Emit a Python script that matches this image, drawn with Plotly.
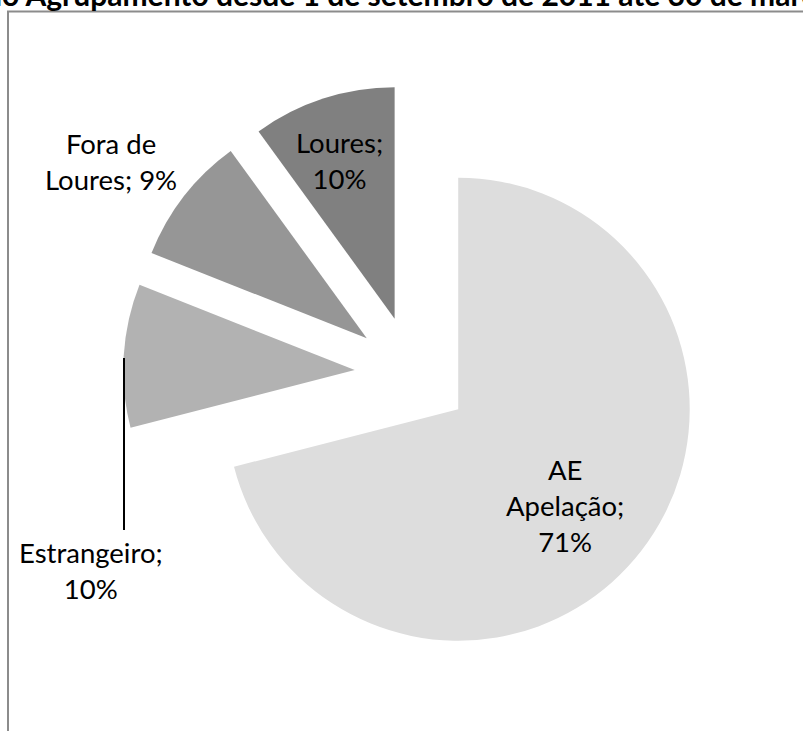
import plotly.graph_objects as go

W, H = 803, 731

categories = ["AE Apelação", "Estrangeiro", "Fora de Loures", "Loures"]
values = [71, 10, 9, 10]
label_lines = [["AE", "Apelação;"], ["Estrangeiro;"], ["Fora de", "Loures;"], ["Loures;"]]
colors = ["#dddddd", "#b2b2b2", "#969696", "#808080"]
title_text = "no Agrupamento desde 1 de setembro de 2011 até 30 de março"

FONT = "Lato, Calibri, Carlito, sans-serif"

fig = go.Figure()
fig.add_trace(go.Pie(
    labels=categories,
    values=values,
    sort=False,
    direction="clockwise",
    rotation=0,
    pull=[0.25] * len(values),
    marker=dict(colors=colors, line=dict(width=0)),
    textinfo="none",
    hoverinfo="label+percent",
    showlegend=False,
    domain=dict(x=[0.1533, 0.8741], y=[0.0929, 0.8846]),
))


def px(x):
    return x / W


def py(y):
    return 1 - y / H


total = sum(values)
texts = []
for lines, v in zip(label_lines, values):
    pct = f"{round(100 * v / total)}%"
    if len(lines) == 2 and lines[0] == "Fora de":
        t = lines[0] + "<br>" + lines[1] + " " + pct
    else:
        t = "<br>".join(lines + [pct])
    texts.append(t)

label_pos = [(565, 505), (91, 570), (111, 161), (339, 160)]

annotations = []
for t, (x, y) in zip(texts, label_pos):
    annotations.append(dict(
        x=px(x), y=py(y), xref="paper", yref="paper",
        text=t, showarrow=False, xanchor="center", yanchor="middle",
        align="center", font=dict(family=FONT, size=27.5, color="#000000"),
    ))

# clipped title
annotations.append(dict(
    x=px(-17), y=py(6), xref="paper", yref="paper",
    text="<b>" + title_text + "</b>", showarrow=False,
    xanchor="left", yanchor="bottom", yshift=-8,
    font=dict(family=FONT, size=30, color="#000000"),
))

shapes = [
    dict(type="rect", xref="paper", yref="paper",
         x0=px(8), x1=px(900), y0=py(900), y1=py(11.5),
         line=dict(color="#8c8c8c", width=2), fillcolor="rgba(0,0,0,0)"),
    dict(type="line", xref="paper", yref="paper",
         x0=px(124), x1=px(124), y0=py(358), y1=py(530),
         line=dict(color="#000000", width=2)),
]

fig.update_layout(
    width=W, height=H,
    margin=dict(l=0, r=0, t=0, b=0),
    paper_bgcolor="#ffffff",
    plot_bgcolor="#ffffff",
    annotations=annotations,
    shapes=shapes,
    font=dict(family=FONT),
)

fig.write_html(
    "out.html",
    config={"displayModeBar": False},
    post_script="document.body.style.margin='0px';document.body.style.overflow='hidden';",
)
